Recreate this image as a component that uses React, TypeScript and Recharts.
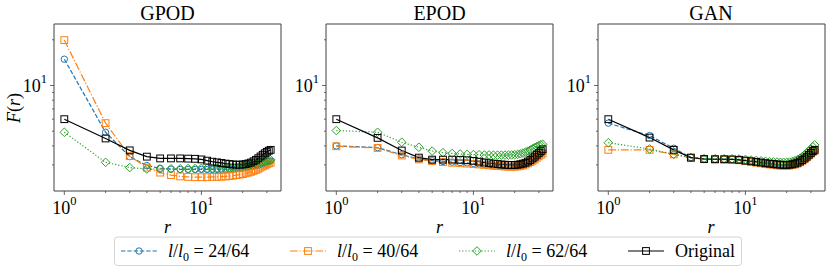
import React from 'react';
import { LineChart, Line, XAxis, YAxis, ReferenceArea } from 'recharts';

// separation r = 1..32
const radii = [
  1, 2, 3, 4, 5, 6, 7, 8, 9, 10, 11, 12, 13, 14, 15, 16,
  17, 18, 19, 20, 21, 22, 23, 24, 25, 26, 27, 28, 29, 30, 31, 32,
];

const gpod24 = [14.9, 4.92, 3.4, 2.97, 2.85, 2.81, 2.8, 2.8, 2.8, 2.8, 2.8, 2.8, 2.8, 2.8, 2.8, 2.81, 2.82, 2.83, 2.84, 2.86, 2.88, 2.9, 2.92, 2.94, 2.97, 3.0, 3.03, 3.06, 3.09, 3.12, 3.15, 3.18];
const gpod40 = [19.9, 5.65, 3.43, 2.88, 2.67, 2.57, 2.52, 2.5, 2.49, 2.49, 2.49, 2.5, 2.5, 2.51, 2.52, 2.53, 2.55, 2.57, 2.59, 2.61, 2.64, 2.67, 2.7, 2.74, 2.78, 2.83, 2.88, 2.93, 2.98, 3.03, 3.07, 3.1];
const gpod62 = [4.92, 3.12, 2.88, 2.82, 2.82, 2.83, 2.83, 2.84, 2.84, 2.85, 2.85, 2.86, 2.86, 2.87, 2.88, 2.89, 2.9, 2.91, 2.93, 2.95, 2.97, 2.99, 3.01, 3.03, 3.05, 3.08, 3.1, 3.13, 3.16, 3.19, 3.21, 3.24];
const gpodOrig = [6.0, 4.48, 3.74, 3.4, 3.31, 3.31, 3.31, 3.3, 3.29, 3.26, 3.2, 3.15, 3.12, 3.09, 3.06, 3.04, 3.02, 3.01, 3.01, 3.02, 3.04, 3.07, 3.11, 3.17, 3.24, 3.32, 3.41, 3.5, 3.58, 3.66, 3.72, 3.77];

const epod24 = [4.0, 3.9, 3.5, 3.28, 3.2, 3.16, 3.13, 3.11, 3.09, 3.07, 3.05, 3.03, 3.01, 2.99, 2.97, 2.96, 2.95, 2.94, 2.94, 2.94, 2.95, 2.97, 3.0, 3.04, 3.09, 3.15, 3.22, 3.3, 3.38, 3.47, 3.55, 3.62];
const epod40 = [3.98, 3.88, 3.46, 3.26, 3.18, 3.13, 3.1, 3.08, 3.06, 3.04, 3.02, 3.0, 2.98, 2.96, 2.95, 2.94, 2.93, 2.92, 2.92, 2.92, 2.93, 2.95, 2.98, 3.02, 3.07, 3.13, 3.19, 3.26, 3.34, 3.42, 3.5, 3.57];
const epod62 = [5.05, 4.92, 4.23, 3.92, 3.7, 3.61, 3.57, 3.54, 3.52, 3.51, 3.5, 3.49, 3.49, 3.48, 3.48, 3.48, 3.48, 3.48, 3.49, 3.5, 3.52, 3.55, 3.59, 3.64, 3.7, 3.76, 3.83, 3.9, 3.96, 4.02, 4.07, 4.1];
const epodOrig = [6.0, 4.52, 3.73, 3.35, 3.25, 3.25, 3.25, 3.24, 3.22, 3.19, 3.15, 3.11, 3.08, 3.06, 3.04, 3.02, 3.01, 3.0, 3.0, 3.0, 3.01, 3.03, 3.06, 3.1, 3.16, 3.23, 3.31, 3.4, 3.5, 3.6, 3.7, 3.8];

const gan24 = [5.65, 4.68, 3.86, 3.36, 3.28, 3.27, 3.27, 3.26, 3.24, 3.21, 3.18, 3.15, 3.12, 3.09, 3.07, 3.05, 3.03, 3.02, 3.01, 3.01, 3.02, 3.04, 3.07, 3.11, 3.17, 3.24, 3.32, 3.41, 3.51, 3.61, 3.7, 3.77];
const gan40 = [3.77, 3.77, 3.52, 3.34, 3.27, 3.26, 3.25, 3.24, 3.22, 3.18, 3.14, 3.1, 3.07, 3.04, 3.02, 3.0, 2.98, 2.97, 2.96, 2.96, 2.97, 2.99, 3.02, 3.06, 3.12, 3.19, 3.27, 3.36, 3.46, 3.55, 3.64, 3.72];
const gan62 = [4.2, 3.82, 3.52, 3.36, 3.3, 3.29, 3.29, 3.29, 3.28, 3.26, 3.23, 3.21, 3.19, 3.17, 3.15, 3.14, 3.13, 3.12, 3.12, 3.12, 3.13, 3.16, 3.2, 3.25, 3.32, 3.4, 3.5, 3.6, 3.71, 3.82, 3.95, 4.06];
const ganOrig = [6.0, 4.54, 3.77, 3.35, 3.28, 3.27, 3.27, 3.26, 3.24, 3.2, 3.17, 3.14, 3.11, 3.08, 3.06, 3.04, 3.02, 3.01, 3.0, 3.0, 3.01, 3.03, 3.06, 3.1, 3.16, 3.23, 3.31, 3.4, 3.5, 3.6, 3.7, 3.77];

const xTicks = [1, 2, 3, 4, 5, 6, 7, 8, 9, 10, 20, 30];
const yTicks = [3, 4, 5, 6, 7, 8, 9, 10, 20];
const xDomain = [0.841, 38.06];
const yDomain = [2.02, 25.4];

const FONT = '"Liberation Serif", serif';
const FRAME = '#404040';
const AXIS_W = 60;
const PLOT_W = 227;
const PLOT_TOP = 24;
const PLOT_BOTTOM = 191;
const CHART_H = 240;

const BLUE = '#1f77b4';
const ORANGE = '#ff7f0e';
const GREEN = '#2ca02c';
const BLACK = '#000000';

type Shape = 'circle' | 'square' | 'diamond';

const marker = (shape: Shape, color: string, cx: number, cy: number, key?: string) => {
  if (shape === 'circle')
    return <circle key={key} cx={cx} cy={cy} r={3.2} fill="none" stroke={color} strokeWidth={1} />;
  if (shape === 'square')
    return <rect key={key} x={cx - 3.4} y={cy - 3.4} width={6.8} height={6.8} fill="none" stroke={color} strokeWidth={1} />;
  return (
    <path
      key={key}
      d={`M${cx},${cy - 4.3}L${cx + 4.3},${cy}L${cx},${cy + 4.3}L${cx - 4.3},${cy}Z`}
      fill="none"
      stroke={color}
      strokeWidth={1}
    />
  );
};

const dotFor = (shape: Shape, color: string) => (p: any) =>
  marker(shape, color, p.cx, p.cy, `${shape}-${p.index}`);

const XTick = (props: any) => {
  const { x, payload } = props;
  const major = payload.value === 1 || payload.value === 10;
  return (
    <g>
      <line x1={x} x2={x} y1={PLOT_BOTTOM} y2={PLOT_BOTTOM + (major ? 4 : 2)} stroke={FRAME} strokeWidth={0.8} />
      {major && (
        <text x={x} y={PLOT_BOTTOM + 22.5} textAnchor="middle" style={{ fontFamily: FONT }} fontSize={18} fill="#000">
          10
          <tspan dy={-9} fontSize={12.5}>{payload.value === 1 ? '0' : '1'}</tspan>
        </text>
      )}
    </g>
  );
};

const YTick = (props: any) => {
  const { y, payload } = props;
  const major = payload.value === 10;
  return (
    <g>
      <line x1={AXIS_W - (major ? 4 : 2)} x2={AXIS_W} y1={y} y2={y} stroke={FRAME} strokeWidth={0.8} />
      {major && (
        <text x={AXIS_W - 7} y={y + 7} textAnchor="end" style={{ fontFamily: FONT }} fontSize={18} fill="#000">
          10
          <tspan dy={-9} fontSize={12.5}>1</tspan>
        </text>
      )}
    </g>
  );
};

type PanelProps = {
  left: number;
  s24: number[];
  s40: number[];
  s62: number[];
  orig: number[];
};

const Panel = ({ left, s24, s40, s62, orig }: PanelProps) => {
  const data = radii.map((r, i) => ({ r, s24: s24[i], s40: s40[i], s62: s62[i], orig: orig[i] }));
  return (
    <div style={{ position: 'absolute', left: left - AXIS_W, top: 0 }}>
      <LineChart
        width={AXIS_W + PLOT_W + 4}
        height={CHART_H}
        data={data}
        margin={{ top: PLOT_TOP, right: 4, bottom: 0, left: 0 }}
      >
        <XAxis
          dataKey="r"
          type="number"
          scale="log"
          domain={xDomain}
          ticks={xTicks}
          interval={0}
          allowDataOverflow
          axisLine={false}
          tickLine={false}
          tick={<XTick />}
          height={CHART_H - PLOT_BOTTOM}
        />
        <YAxis
          type="number"
          scale="log"
          domain={yDomain}
          ticks={yTicks}
          interval={0}
          allowDataOverflow
          axisLine={false}
          tickLine={false}
          tick={<YTick />}
          width={AXIS_W}
        />
        <ReferenceArea
          x1={xDomain[0]}
          x2={xDomain[1]}
          y1={yDomain[0]}
          y2={yDomain[1]}
          ifOverflow="visible"
          fill="none"
          fillOpacity={0}
          stroke={FRAME}
          strokeWidth={1}
        />
        <Line dataKey="s24" stroke={BLUE} strokeWidth={1.2} strokeDasharray="4.4 1.9" dot={dotFor('circle', BLUE)} isAnimationActive={false} />
        <Line dataKey="s40" stroke={ORANGE} strokeWidth={1.2} strokeDasharray="7.7 1.9 1.2 1.9" dot={dotFor('square', ORANGE)} isAnimationActive={false} />
        <Line dataKey="s62" stroke={GREEN} strokeWidth={1.2} strokeDasharray="1.2 2" dot={dotFor('diamond', GREEN)} isAnimationActive={false} />
        <Line dataKey="orig" stroke={BLACK} strokeWidth={1.2} dot={dotFor('square', BLACK)} isAnimationActive={false} />
      </LineChart>
    </div>
  );
};

const panels = [
  { title: 'GPOD', left: 54, s24: gpod24, s40: gpod40, s62: gpod62, orig: gpodOrig },
  { title: 'EPOD', left: 326, s24: epod24, s40: epod40, s62: epod62, orig: epodOrig },
  { title: 'GAN', left: 597.5, s24: gan24, s40: gan40, s62: gan62, orig: ganOrig },
];

const legendItems = [
  { x: 121, color: BLUE, dash: '4.4 1.9', shape: 'circle' as Shape, label: '24/64' },
  { x: 290, color: ORANGE, dash: '7.7 1.9 1.2 1.9', shape: 'square' as Shape, label: '40/64' },
  { x: 459, color: GREEN, dash: '1.2 2', shape: 'diamond' as Shape, label: '62/64' },
  { x: 628, color: BLACK, dash: undefined, shape: 'square' as Shape, label: null },
];

const LEG_Y = 251;

export default function App() {
  return (
    <div style={{ position: 'absolute', left: 0, top: 0, width: 830, height: 272, background: '#fff' }}>
      {panels.map((p) => (
        <Panel key={p.title} left={p.left} s24={p.s24} s40={p.s40} s62={p.s62} orig={p.orig} />
      ))}
      <svg width={830} height={272} style={{ position: 'absolute', left: 0, top: 0, pointerEvents: 'none', fontFamily: FONT }}>
        {panels.map((p) => (
          <g key={p.title}>
            <text x={p.left + PLOT_W / 2} y={20} textAnchor="middle" fontSize={20} fill="#000">
              {p.title}
            </text>
            <text x={p.left + PLOT_W / 2} y={233} textAnchor="middle" fontSize={18} fontStyle="italic" fill="#000">
              r
            </text>
          </g>
        ))}
        <text transform="translate(20,108) rotate(-90)" textAnchor="middle" fontSize={18} fill="#000">
          <tspan fontStyle="italic">F</tspan>(<tspan fontStyle="italic">r</tspan>)
        </text>
        <rect x={114.5} y={237} width={627} height={28.5} rx={3} fill="#fff" stroke="#d4d4d4" strokeWidth={1} />
        {legendItems.map((it) => (
          <g key={it.x}>
            <line x1={it.x} x2={it.x + 36} y1={LEG_Y} y2={LEG_Y} stroke={it.color} strokeWidth={1.2} strokeDasharray={it.dash} />
            {marker(it.shape, it.color, it.x + 18, LEG_Y)}
            <text x={it.x + 47} y={LEG_Y + 6} fontSize={18} fill="#000">
              {it.label ? (
                <>
                  <tspan fontStyle="italic">l</tspan>
                  <tspan>/</tspan>
                  <tspan fontStyle="italic">l</tspan>
                  <tspan dy={3.5} fontSize={12}>0</tspan>
                  <tspan dy={-3.5}>{' = ' + it.label}</tspan>
                </>
              ) : (
                'Original'
              )}
            </text>
          </g>
        ))}
      </svg>
    </div>
  );
}
